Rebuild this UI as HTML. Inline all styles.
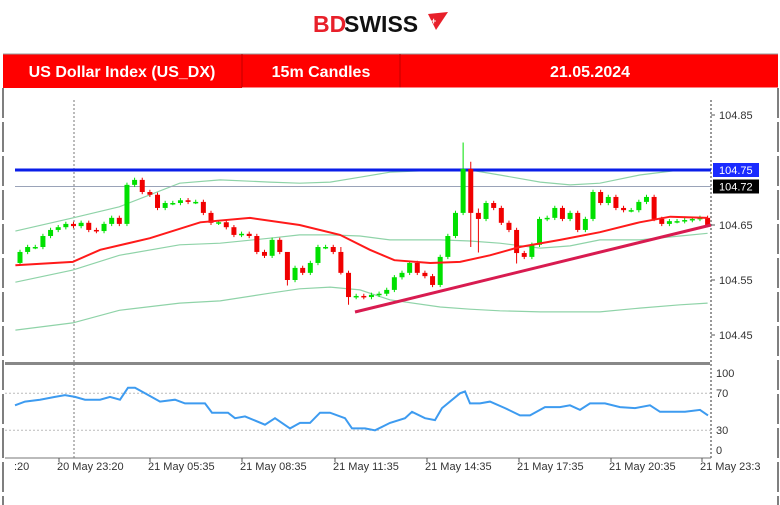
<!DOCTYPE html>
<html><head><meta charset="utf-8">
<style>
body{margin:0;background:#fff;width:780px;height:505px;overflow:hidden;font-family:"Liberation Sans",sans-serif}
svg{display:block}
</style></head>
<body>
<svg width="780" height="505" viewBox="0 0 780 505">
  <g>
    <text x="313" y="32" font-size="23" font-weight="bold" fill="#e8202a" font-family="Liberation Sans, sans-serif">BD</text>
    <text x="344" y="32" font-size="23" font-weight="bold" fill="#111" font-family="Liberation Sans, sans-serif">SWISS</text>
    <polygon points="428,14 448,12 436,30" fill="#e8202a"/>
    <text x="431" y="24" font-size="9" font-weight="bold" fill="#fff">+</text>
  </g>
  <g>
    <rect x="3" y="54" width="775" height="34" fill="#ff0000"/>
    <line x1="3" y1="54" x2="778" y2="54" stroke="#999" stroke-width="1"/>
    <line x1="242" y1="54" x2="242" y2="88" stroke="#c00000"/>
    <line x1="400" y1="54" x2="400" y2="88" stroke="#c00000"/>
    <line x1="242" y1="88" x2="778" y2="88" stroke="#fff" stroke-width="1"/>
    <text x="122" y="77" font-size="16" font-weight="bold" fill="#fff" text-anchor="middle">US Dollar Index (US_DX)</text>
    <text x="321" y="77" font-size="16" font-weight="bold" fill="#fff" text-anchor="middle">15m Candles</text>
    <text x="590" y="77" font-size="16" font-weight="bold" fill="#fff" text-anchor="middle">21.05.2024</text>
  </g>
  <line x1="3" y1="88" x2="3" y2="505" stroke="#555" stroke-width="1.5" stroke-dasharray="30,4"/>
  <line x1="778" y1="88" x2="778" y2="505" stroke="#555" stroke-width="1.5" stroke-dasharray="30,4"/>
  <g id="chart"></g>
</svg>
<script>
const closes=[104.601,104.610,104.610,104.630,104.641,104.646,104.652,104.648,104.654,104.641,104.639,104.652,104.663,104.652,104.723,104.732,104.710,104.705,104.681,104.690,104.690,104.695,104.692,104.692,104.672,104.654,104.655,104.646,104.632,104.634,104.630,104.601,104.594,104.623,104.601,104.550,104.572,104.563,104.581,104.610,104.610,104.601,104.563,104.519,104.521,104.519,104.523,104.525,104.532,104.555,104.563,104.581,104.563,104.557,104.541,104.592,104.630,104.672,104.752,104.672,104.661,104.690,104.681,104.654,104.641,104.599,104.592,104.614,104.661,104.663,104.681,104.661,104.672,104.641,104.661,104.710,104.690,104.701,104.681,104.677,104.677,104.692,104.701,104.661,104.652,104.657,104.657,104.659,104.661,104.663,104.650];
const firstOpen=104.581;
const wickHigh={58:104.800,59:104.765,35:104.600,42:104.610,60:104.680,82:104.705};
const wickLow={35:104.540,43:104.505,59:104.610,65:104.580,60:104.600,42:104.560};
const maIdx=[-0.6,6.9,10.5,17,23.6,30.1,36.6,41.9,45.8,49,53.7,57.6,61.5,65.4,70.7,75.9,81.1,85.1,90];
const maVals=[104.577,104.583,104.605,104.626,104.655,104.663,104.650,104.632,104.605,104.586,104.581,104.583,104.595,104.610,104.623,104.637,104.655,104.665,104.663];
const bbIdx=[-0.6,6.9,13,20.9,26.2,32.7,36.6,40.6,44.5,48.4,55,58.9,62.8,68.1,72,75.9,81.1,86.4,90];
const bbUpper=[104.639,104.663,104.683,104.726,104.732,104.728,104.726,104.728,104.737,104.746,104.750,104.750,104.741,104.728,104.723,104.726,104.741,104.750,104.750];
const bbMidLine=[104.546,104.568,104.595,104.614,104.617,104.626,104.632,104.632,104.630,104.623,104.623,104.621,104.617,104.608,104.612,104.623,104.623,104.630,104.635];
const bbLower=[104.459,104.472,104.495,104.508,104.512,104.526,104.534,104.537,104.532,104.514,104.501,104.497,104.494,104.492,104.492,104.492,104.499,104.505,104.508];
const priceTicks=["104.85","104.65","104.55","104.45"];
const rsiX=[15,25,40,55,65,75,85,100,110,120,128,135,145,160,175,185,205,212,228,235,245,265,275,290,300,310,320,330,345,352,365,375,390,405,412,425,435,442,460,465,470,480,490,505,520,530,545,560,570,580,590,605,620,635,650,660,685,700,708];
const rsiVals=[57,61,63,66,68,66,63,63,66,63,76,76,70,61,63,59,59,49,49,43,45,36,43,32,38,38,49,49,43,32,32,30,38,43,50,43,41,54,70,72,59,59,61,54,46,46,55,55,57,52,59,59,55,54,57,50,50,52,46];
const rsiTicks=[100,70,30,0];
const timeLabels=[":20","20 May 23:20","21 May 05:35","21 May 08:35","21 May 11:35","21 May 14:35","21 May 17:35","21 May 20:35","21 May 23:3"];
const timeLabelX=[14,57,148,240,333,425,517,609,700];

const NS="http://www.w3.org/2000/svg";
const g=document.getElementById('chart');
function mk(t,a,p){const e=document.createElementNS(NS,t);for(const k in a)e.setAttribute(k,a[k]);(p||g).appendChild(e);return e;}
const yP=p=>225-(p-104.65)*550;
const xI=i=>20+i*7.64;
const yR=v=>458-v*0.925;

let sep=mk('rect',{x:5,y:362,width:705,height:3,fill:'#888'});

let ax=mk('line',{x1:711,y1:100,x2:711,y2:458,stroke:'#777','stroke-width':1.5,'stroke-dasharray':'2,2'});

let bt=mk('line',{x1:5,y1:458,x2:711,y2:458,stroke:'#777','stroke-width':1});

let vl=mk('line',{x1:74,y1:100,x2:74,y2:458,stroke:'#777','stroke-width':1,'stroke-dasharray':'2,2'});


function poly(idx,vals,color,w,name){const pts=idx.map((v,i)=>xI(v).toFixed(1)+','+yP(vals[i]).toFixed(1)).join(' ');const e=mk('polyline',{points:pts,fill:'none',stroke:color,'stroke-width':w});}
poly(bbIdx,bbUpper,'#8fd3a8',1.2,'bollinger-upper');
poly(bbIdx,bbMidLine,'#8fd3a8',1.2,'bollinger-middle');
poly(bbIdx,bbLower,'#8fd3a8',1.2,'bollinger-lower');

let hl=mk('line',{x1:15,y1:yP(104.75),x2:711,y2:yP(104.75),stroke:'#0a1ee8','stroke-width':3});

let gl=mk('line',{x1:15,y1:yP(104.72),x2:711,y2:yP(104.72),stroke:'#9aa3b8','stroke-width':1});


let prev=firstOpen;
closes.forEach((c,i)=>{
  const o=prev;prev=c;
  const up=c>=o;const col=up?'#00e000':'#f00000';
  const hi=wickHigh[i]!==undefined?wickHigh[i]:Math.max(o,c)+0.004;
  const lo=wickLow[i]!==undefined?wickLow[i]:Math.min(o,c)-0.004;
  const x=xI(i);
  const w=mk('line',{x1:x,y1:yP(hi),x2:x,y2:yP(lo),stroke:col,'stroke-width':1});
  
  const t=yP(Math.max(o,c)),b=yP(Math.min(o,c));
  const r=mk('rect',{x:x-2.5,y:t,width:5,height:Math.max(1.5,b-t),fill:col});
  
});
poly(maIdx,maVals,'#ff1a1a',2,'moving-average');

let tl=mk('line',{x1:355,y1:312,x2:711,y2:225,stroke:'#d81b50','stroke-width':3});


priceTicks.forEach(p=>{
  const y=yP(parseFloat(p));
  const tk=mk('line',{x1:711,y1:y,x2:715,y2:y,stroke:'#555'});
  
  const t=mk('text',{x:719,y:y+4,'font-size':11,fill:'#333'});t.textContent=p;
  
});
function box(p,fill,name){const y=yP(p);const r=mk('rect',{x:713,y:y-7,width:46,height:14,fill:fill});const t=mk('text',{x:719,y:y+4,'font-size':11,fill:'#fff'});t.textContent=p.toFixed(2);}
box(104.75,'#1a2bff','resistance-price-label');
box(104.72,'#000','current-price-label');

[70,30].forEach(v=>{const l=mk('line',{x1:5,y1:yR(v),x2:711,y2:yR(v),stroke:'#bbb','stroke-dasharray':'2,2'});});
const rpts=rsiX.map((x,i)=>x+','+yR(rsiVals[i]).toFixed(1)).join(' ');
let rl=mk('polyline',{points:rpts,fill:'none',stroke:'#3d9bf0','stroke-width':2});

const rsiLabelY={100:377,70:397,30:434,0:454};
rsiTicks.forEach(v=>{const t=mk('text',{x:716,y:rsiLabelY[v],'font-size':11,fill:'#333'});t.textContent=v;});

timeLabels.forEach((s,i)=>{
  const x=timeLabelX[i];
  if(i>0){const tk=mk('line',{x1:x+2,y1:458,x2:x+2,y2:462,stroke:'#555'});}
  const t=mk('text',{x:x,y:470,'font-size':11,fill:'#333'});t.textContent=s;
  
});
</script>
</body></html>
